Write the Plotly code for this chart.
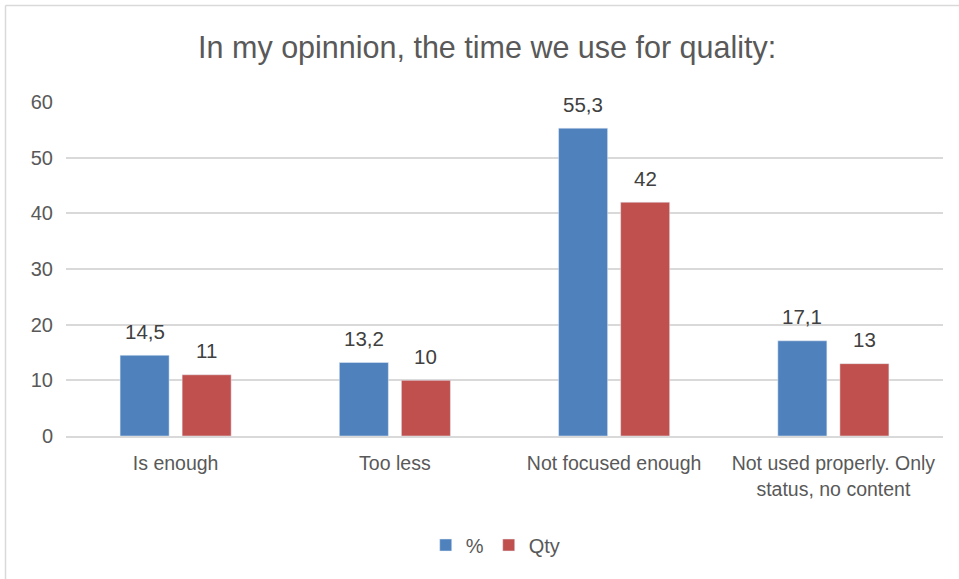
import plotly.graph_objects as go

categories = ["Is enough", "Too less", "Not focused enough", "Not used properly. Only<br>status, no content"]
pct_values = [14.5, 13.2, 55.3, 17.1]
qty_values = [11, 10, 42, 13]
pct_labels = ["14,5", "13,2", "55,3", "17,1"]
qty_labels = ["11", "10", "42", "13"]
y_ticks = [0, 10, 20, 30, 40, 50, 60]

W, H = 959, 579
ML, MR, MT, MB = 66, 16, 102, 143
FONT = "Liberation Sans Narrow, Arial Narrow, Liberation Sans, Arial, sans-serif"
TXT = "#595959"

fig = go.Figure()
fig.add_trace(go.Bar(name="%", x=categories, y=pct_values, marker_color="#4F81BD"))
fig.add_trace(go.Bar(name="Qty", x=categories, y=qty_values, marker_color="#C0504D"))

annotations = []
for series, labels, shift in ((pct_values, pct_labels, -31), (qty_values, qty_labels, 31)):
    for cat, v, lab in zip(categories, series, labels):
        annotations.append(dict(x=cat, y=v, text=lab, showarrow=False, xshift=shift,
                                yshift=24, yanchor="middle",
                                font=dict(size=20.5, color="#404040", family=FONT)))

pw = W - ML - MR
ph = H - MT - MB
def px2x(p):
    return (p - ML) / pw
def py2y(p):
    return (H - MB - p) / ph

fig.update_layout(
    width=W, height=H,
    margin=dict(l=ML, r=MR, t=MT, b=MB),
    paper_bgcolor="white", plot_bgcolor="white",
    barmode="group", bargap=0.434, bargroupgap=0.21,
    font=dict(family=FONT, color=TXT, size=18),
    title=dict(text="In my opinnion, the time we use for quality:", x=0.508, xanchor="center",
               y=1 - 47 / H, yanchor="middle",
               font=dict(size=30.5, color=TXT, family=FONT)),
    xaxis=dict(showgrid=False, showline=True, linecolor="#D9D9D9", linewidth=1.5,
               ticks="", tickfont=dict(size=19.5, color=TXT), ticklabelstandoff=9),
    yaxis=dict(range=[0, 60], tickvals=y_ticks, showgrid=True, gridcolor="#D9D9D9",
               gridwidth=1.5, zeroline=False, showline=False, ticks="",
               tickfont=dict(size=20, color=TXT), ticklabelstandoff=12),
    legend=dict(orientation="h", x=0.49, xanchor="center", y=py2y(545), yanchor="middle",
                font=dict(size=20, color=TXT), itemwidth=30),
    annotations=annotations,
    shapes=[
        dict(type="line", xref="paper", yref="paper", x0=px2x(5.5), x1=px2x(959),
             y0=py2y(5.5), y1=py2y(5.5), line=dict(color="#D9D9D9", width=1.5)),
        dict(type="line", xref="paper", yref="paper", x0=px2x(5.5), x1=px2x(5.5),
             y0=py2y(5.5), y1=py2y(579), line=dict(color="#D9D9D9", width=1.5)),
    ],
)

fig.write_html("out.html")
